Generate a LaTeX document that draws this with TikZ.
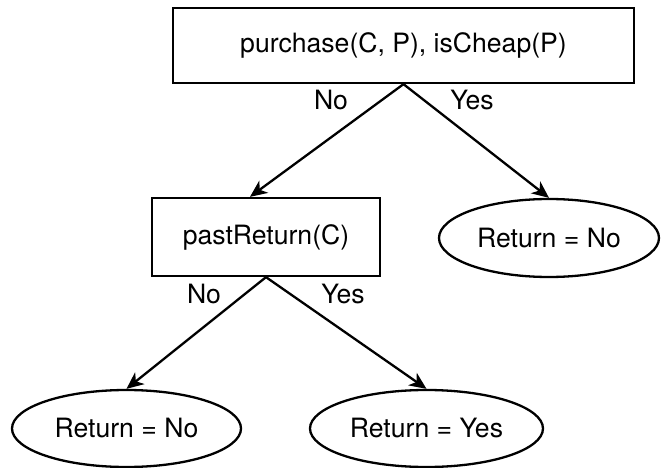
\documentclass[tikz,border=0pt]{standalone}
\usepackage{fontspec}
\setmainfont{TeX Gyre Heros}
\usetikzlibrary{shapes.geometric,arrows.meta,calc}
\begin{document}
\begin{tikzpicture}[x=1pt,y=-1pt,
  every node/.style={font=\fontsize{26.6}{32}\selectfont},
  testbox/.style={draw,line width=2.3pt,inner sep=0pt,rectangle},
  leaf/.style={draw,line width=2.3pt,inner sep=0pt,ellipse},
  arr/.style={line width=2.3pt,-{Stealth[length=17pt,width=15pt,inset=5pt]}},
  lbl/.style={anchor=base,inner sep=0pt}]
\useasboundingbox (0,0) rectangle (662,468);
\node[testbox,minimum width=461pt,minimum height=75pt] (top) at (403.5,45.5) {purchase(C, P), isCheap(P)};
\node[testbox,minimum width=228pt,minimum height=78pt] (past) at (266,237) {pastReturn(C)};
\node[leaf,minimum width=220pt,minimum height=78pt] (r1) at (549,238) {Return = No};
\node[leaf,minimum width=229pt,minimum height=77pt] (r2) at (126.5,428.5) {Return = No};
\node[leaf,minimum width=233pt,minimum height=77pt] (r3) at (426.5,428.5) {Return = Yes};
\draw[arr] (top.south) -- ($(past.north)+(-16,0)$);
\draw[arr] (top.south) -- (r1.north);
\draw[arr] (past.south) -- (r2.north);
\draw[arr] (past.south) -- (r3.north);
\node[lbl] (n1) at (331,110) {No};
\node[lbl] (y1) at (472,110) {Yes};
\node[lbl] (n2) at (204,303) {No};
\node[lbl] (y2) at (343,303) {Yes};
\end{tikzpicture}
\end{document}
